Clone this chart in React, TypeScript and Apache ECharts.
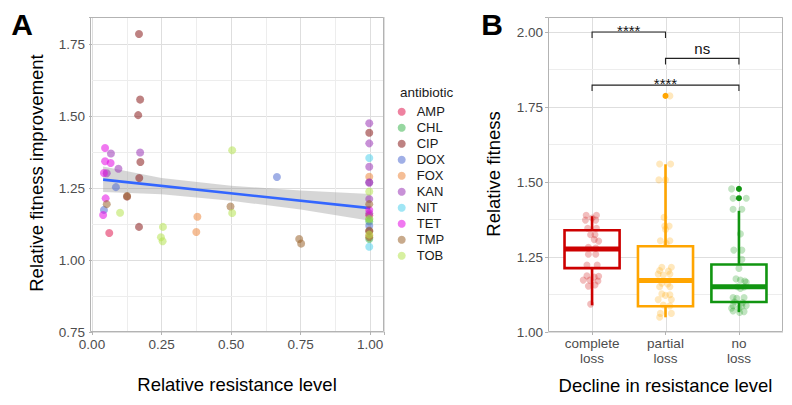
import React, { useEffect, useRef } from 'react';
import * as echarts from 'echarts';

const FONT = '"Liberation Sans", Arial, Helvetica, sans-serif';

// ---------- Panel A data ----------
const ANTIBIOTICS = ['AMP', 'CHL', 'CIP', 'DOX', 'FOX', 'KAN', 'NIT', 'TET', 'TMP', 'TOB'];
const AB_COLORS = ['#E01C52', '#40B652', '#891C1C', '#526ED2', '#ED8940', '#9B37B6', '#52D2ED', '#E40AE4', '#9B642E', '#B6E452'];

const AMP = [[0.062, 1.094], [0.997, 1.155]];
const CHL = [[0.997, 1.142], [0.997, 1.134], [0.997, 1.073]];
const CIP = [[0.169, 1.785], [0.173, 1.557], [0.166, 1.503], [0.174, 1.34], [0.17, 1.285], [0.169, 1.115], [0.126, 1.22], [0.997, 1.442], [0.997, 1.1]];
const DOX = [[0.086, 1.253], [0.043, 1.174], [0.665, 1.288], [0.997, 1.119]];
const FOX = [[0.379, 1.15], [0.375, 1.097], [0.997, 1.289], [0.997, 1.085]];
const KAN = [[0.068, 1.37], [0.173, 1.373], [0.053, 1.301], [0.095, 1.317], [0.997, 1.475], [0.997, 1.405], [0.997, 1.324], [0.997, 1.27], [0.997, 1.268], [0.997, 1.212], [0.997, 1.162]];
const NIT = [[0.997, 1.354], [0.997, 1.046]];
const TET = [[0.047, 1.389], [0.047, 1.343], [0.067, 1.337], [0.043, 1.302], [0.049, 1.214], [0.04, 1.156], [0.997, 1.174]];
const TMP = [[0.126, 1.222], [0.498, 1.186], [0.745, 1.073], [0.752, 1.057], [0.997, 1.194], [0.997, 1.102], [0.997, 1.079], [0.053, 1.194]];
const TOB = [[0.504, 1.381], [0.101, 1.164], [0.255, 1.115], [0.248, 1.079], [0.254, 1.065], [0.504, 1.163], [0.997, 1.238], [0.997, 1.142], [0.997, 1.088]];
const AB_DATA = [AMP, CHL, CIP, DOX, FOX, KAN, NIT, TET, TMP, TOB];

const FIT_X = [0.04, 1.0];
const FIT_Y = [1.279, 1.18];
const BAND_X = [0.04, 0.25, 0.5, 0.75, 1.0];
const BAND_UP = [1.325, 1.285, 1.258, 1.241, 1.229];
const BAND_LO = [1.236, 1.228, 1.206, 1.175, 1.136];

const A_X_MINOR = [0.125, 0.375, 0.625, 0.875];
const A_Y_MINOR = [0.875, 1.125, 1.375, 1.625];

// ---------- Panel B data ----------
const CATS = ['complete\nloss', 'partial\nloss', 'no\nloss'];
const CAT_COLORS = ['#CD0000', '#FFA500', '#119511'];
const BOX_LO = [1.089, 1.049, 1.066];
const BOX_Q1 = [1.213, 1.086, 1.1];
const BOX_MED = [1.277, 1.172, 1.151];
const BOX_Q3 = [1.339, 1.286, 1.225];
const BOX_HI = [1.386, 1.559, 1.404];

const PTS_COMPLETE = [[0.92, 1.389], [1.06, 1.389], [1.0, 1.38], [0.91, 1.373], [1.05, 1.373], [0.94, 1.346], [1.06, 1.346], [0.98, 1.324], [1.04, 1.324], [1.03, 1.308], [1.09, 1.303], [0.95, 1.282], [1.05, 1.28], [0.95, 1.259], [1.05, 1.259], [0.93, 1.223], [1.07, 1.223], [0.93, 1.187], [1.03, 1.183], [1.09, 1.186], [0.88, 1.173], [0.97, 1.173], [1.08, 1.17], [0.95, 1.153], [1.04, 1.157], [0.98, 1.093]];
const PTS_PARTIAL = [[2.06, 1.787], [1.92, 1.56], [2.07, 1.56], [1.91, 1.507], [2.0, 1.507], [1.98, 1.382], [1.99, 1.353], [2.05, 1.353], [2.0, 1.342], [1.93, 1.304], [2.06, 1.304], [2.01, 1.296], [1.95, 1.216], [2.08, 1.216], [1.92, 1.205], [2.04, 1.203], [1.9, 1.193], [1.97, 1.19], [2.06, 1.193], [1.95, 1.163], [2.03, 1.16], [1.92, 1.151], [2.06, 1.151], [1.95, 1.127], [2.06, 1.124], [2.0, 1.122], [1.9, 1.108], [2.08, 1.108], [1.97, 1.09], [2.06, 1.087], [1.93, 1.062], [2.08, 1.062], [1.92, 1.049]];
const PTS_NO = [[2.9, 1.477], [3.1, 1.446], [2.92, 1.446], [2.92, 1.409], [3.04, 1.409], [3.02, 1.327], [2.93, 1.273], [3.04, 1.273], [3.04, 1.242], [3.0, 1.212], [2.96, 1.177], [3.02, 1.173], [3.08, 1.17], [3.1, 1.166], [2.98, 1.151], [3.07, 1.15], [3.02, 1.145], [2.92, 1.115], [2.97, 1.112], [3.07, 1.115], [2.94, 1.1], [3.05, 1.098], [2.92, 1.088], [3.04, 1.086], [3.1, 1.088], [2.9, 1.079], [3.0, 1.079], [2.92, 1.07], [3.07, 1.068], [3.01, 1.065]];
const PTS_B = [PTS_COMPLETE, PTS_PARTIAL, PTS_NO];
const OUT_PARTIAL = [[2, 1.787]];
const OUT_NO = [[3, 1.477], [3, 1.446]];

const BR_X1 = [1, 2, 1];
const BR_X2 = [2, 3, 3];
const BR_Y = [2.0, 1.912, 1.823];
const BR_LABEL = ['****', 'ns', '****'];

const B_X_TICKS = [1, 2, 3];
const B_Y_MINOR = [1.125, 1.375, 1.625, 1.875];

const GRID_MAJOR = '#DEDEDE';
const GRID_MINOR = '#EDEDED';
const BORDER = '#B3B3B3';
const TICK_TEXT = '#4D4D4D';

const isMultiple = (v: number, step: number) => Math.abs(v / step - Math.round(v / step)) < 1e-6;

const vLines = (color: string) => (params: any, api: any) => {
  const cs = params.coordSys;
  const p = api.coord([api.value(0), api.value(1)]);
  const x = Math.round(p[0]) + 0.5;
  return { type: 'line', silent: true, shape: { x1: x, y1: cs.y, x2: x, y2: cs.y + cs.height }, style: { stroke: color, lineWidth: 1 } };
};
const hLines = (color: string) => (params: any, api: any) => {
  const cs = params.coordSys;
  const p = api.coord([api.value(0), api.value(1)]);
  const y = Math.round(p[1]) + 0.5;
  return { type: 'line', silent: true, shape: { x1: cs.x, y1: y, x2: cs.x + cs.width, y2: y }, style: { stroke: color, lineWidth: 1 } };
};

function buildOption(): any {
  const axisTick = { show: true, length: 3, lineStyle: { color: BORDER, width: 1 } };
  const labelBase = { color: TICK_TEXT, fontSize: 13.5, fontFamily: FONT };

  const series: any[] = [];
  series.push({ type: 'custom', xAxisIndex: 0, yAxisIndex: 0, silent: true, z: 1, renderItem: vLines(GRID_MINOR), data: A_X_MINOR.map((x) => [x, 1.0]) });
  series.push({ type: 'custom', xAxisIndex: 0, yAxisIndex: 0, silent: true, z: 1, renderItem: hLines(GRID_MINOR), data: A_Y_MINOR.map((y) => [0.5, y]) });
  series.push({
    type: 'custom', xAxisIndex: 0, yAxisIndex: 0, silent: true, z: 2,
    data: [[BAND_X[0], BAND_LO[0]]],
    renderItem: (params: any, api: any) => {
      const pts: number[][] = [];
      for (let i = 0; i < BAND_X.length; i++) pts.push(api.coord([BAND_X[i], BAND_UP[i]]));
      for (let i = BAND_X.length - 1; i >= 0; i--) pts.push(api.coord([BAND_X[i], BAND_LO[i]]));
      return { type: 'polygon', shape: { points: pts }, style: { fill: 'rgba(153,153,153,0.4)' } };
    },
  });
  series.push({
    type: 'line', xAxisIndex: 0, yAxisIndex: 0, z: 3, silent: true, showSymbol: false, symbol: 'none',
    data: FIT_X.map((x, i) => [x, FIT_Y[i]]),
    lineStyle: { color: '#3366FF', width: 2.6 },
  });
  ANTIBIOTICS.forEach((name, i) => {
    series.push({
      type: 'scatter', name, xAxisIndex: 0, yAxisIndex: 0, z: 4,
      data: AB_DATA[i], symbolSize: 8,
      itemStyle: { color: AB_COLORS[i], opacity: 0.55 },
    });
  });

  series.push({ type: 'custom', xAxisIndex: 1, yAxisIndex: 1, silent: true, z: 1, renderItem: vLines(GRID_MAJOR), data: B_X_TICKS.map((x) => [x, 1.5]) });
  series.push({ type: 'custom', xAxisIndex: 1, yAxisIndex: 1, silent: true, z: 1, renderItem: hLines(GRID_MINOR), data: B_Y_MINOR.map((y) => [2, y]) });
  series.push({
    type: 'custom', xAxisIndex: 1, yAxisIndex: 1, silent: true, z: 2,
    encode: { x: 0, y: [1, 2, 3, 4, 5] },
    data: CATS.map((_, i) => [i + 1, BOX_LO[i], BOX_Q1[i], BOX_MED[i], BOX_Q3[i], BOX_HI[i]]),
    renderItem: (params: any, api: any) => {
      const x = api.value(0);
      const c = CAT_COLORS[params.dataIndex];
      const lo = api.coord([x, api.value(1)]);
      const q1 = api.coord([x, api.value(2)]);
      const med = api.coord([x, api.value(3)]);
      const q3 = api.coord([x, api.value(4)]);
      const hi = api.coord([x, api.value(5)]);
      const half = api.size([0.375, 0])[0];
      return {
        type: 'group',
        children: [
          { type: 'line', shape: { x1: hi[0], y1: hi[1], x2: q3[0], y2: q3[1] }, style: { stroke: c, lineWidth: 2.6 } },
          { type: 'line', shape: { x1: q1[0], y1: q1[1], x2: lo[0], y2: lo[1] }, style: { stroke: c, lineWidth: 2.6 } },
          { type: 'rect', shape: { x: q3[0] - half, y: q3[1], width: half * 2, height: q1[1] - q3[1] }, style: { fill: '#FFFFFF', stroke: c, lineWidth: 2.6 } },
          { type: 'line', shape: { x1: med[0] - half, y1: med[1], x2: med[0] + half, y2: med[1] }, style: { stroke: c, lineWidth: 5 } },
        ],
      };
    },
  });
  PTS_B.forEach((pts, i) => {
    series.push({
      type: 'scatter', xAxisIndex: 1, yAxisIndex: 1, z: 3, silent: true,
      data: pts, symbolSize: 7,
      itemStyle: { color: CAT_COLORS[i], opacity: 0.26 },
    });
  });
  series.push({ type: 'scatter', xAxisIndex: 1, yAxisIndex: 1, z: 4, silent: true, data: OUT_PARTIAL, symbolSize: 6, itemStyle: { color: CAT_COLORS[1], opacity: 1 } });
  series.push({ type: 'scatter', xAxisIndex: 1, yAxisIndex: 1, z: 4, silent: true, data: OUT_NO, symbolSize: 6, itemStyle: { color: CAT_COLORS[2], opacity: 1 } });
  series.push({
    type: 'custom', xAxisIndex: 1, yAxisIndex: 1, silent: true, z: 5,
    encode: { x: [0, 2], y: 1 },
    data: BR_Y.map((y, i) => [BR_X1[i], y, BR_X2[i]]),
    renderItem: (params: any, api: any) => {
      const y = api.value(1);
      const a = api.coord([api.value(0), y]);
      const b = api.coord([api.value(2), y]);
      const a2 = api.coord([api.value(0), y - 0.02]);
      const b2 = api.coord([api.value(2), y - 0.02]);
      const label = BR_LABEL[params.dataIndex];
      const isNs = label === 'ns';
      return {
        type: 'group',
        children: [
          { type: 'polyline', shape: { points: [a2, a, b, b2] }, style: { stroke: '#222222', lineWidth: 1.1, fill: 'none' } },
          {
            type: 'text', x: (a[0] + b[0]) / 2, y: a[1] + (isNs ? -9.5 : -1.5),
            style: { text: label, fontSize: 15, fontFamily: FONT, fill: '#111111', align: 'center', verticalAlign: 'middle', textAlign: 'center', textVerticalAlign: 'middle' },
          },
        ],
      };
    },
  });

  const txt = (text: string, x: number, y: number, size: number, extra: any = {}) => ({
    type: 'text', x, y, silent: true, z: 20,
    style: { text, fontSize: size, fontFamily: FONT, fill: '#000000', align: 'center', verticalAlign: 'middle', textAlign: 'center', textVerticalAlign: 'middle', ...(extra.style || {}) },
    ...(extra.rotation !== undefined ? { rotation: extra.rotation } : {}),
  });

  return {
    animation: false,
    backgroundColor: '#FFFFFF',
    textStyle: { fontFamily: FONT },
    grid: [
      { left: 92, right: 408, top: 17, bottom: 73, containLabel: false, outerBoundsMode: 'none' },
      { left: 548, right: 9, top: 17, bottom: 73, containLabel: false, outerBoundsMode: 'none' },
    ],
    xAxis: [
      {
        gridIndex: 0, type: 'value', min: 0, max: 1.05, interval: 0.25,
        axisLine: { show: false }, axisTick,
        axisLabel: { ...labelBase, margin: 5, formatter: (v: number) => (isMultiple(v, 0.25) && v <= 1.0001 ? v.toFixed(2) : '') },
        splitLine: { show: true, lineStyle: { color: GRID_MAJOR, width: 1 } },
      },
      {
        gridIndex: 1, type: 'value', min: 0.4, max: 3.6,
        axisLine: { show: false },
        axisTick: { ...axisTick, customValues: B_X_TICKS },
        axisLabel: { ...labelBase, margin: 4, lineHeight: 15, customValues: B_X_TICKS, formatter: (v: number) => (isMultiple(v, 1) && v >= 1 && v <= 3 ? CATS[Math.round(v) - 1] : '') },
        splitLine: { show: false },
      },
    ],
    yAxis: [
      {
        gridIndex: 0, type: 'value', min: 0.75, max: 1.84375, interval: 0.25,
        axisLine: { show: false }, axisTick,
        axisLabel: { ...labelBase, margin: 7, formatter: (v: number) => (isMultiple(v, 0.25) && v <= 1.7501 ? v.toFixed(2) : '') },
        splitLine: { show: true, lineStyle: { color: GRID_MAJOR, width: 1 } },
      },
      {
        gridIndex: 1, type: 'value', min: 1.0, max: 2.05, interval: 0.25,
        axisLine: { show: false }, axisTick,
        axisLabel: { ...labelBase, margin: 5, formatter: (v: number) => (isMultiple(v, 0.25) && v <= 2.0001 ? v.toFixed(2) : '') },
        splitLine: { show: true, lineStyle: { color: GRID_MAJOR, width: 1 } },
      },
    ],
    legend: {
      data: ANTIBIOTICS,
      orient: 'vertical', left: 397.7, top: 103.7, padding: 0,
      itemWidth: 20, itemHeight: 8, itemGap: 0, icon: 'circle',
      selectedMode: false,
      textStyle: { fontSize: 13, lineHeight: 16, color: '#1A1A1A', fontFamily: FONT },
    },
    graphic: [
      { type: 'rect', silent: true, z: 15, shape: { x: 90.5, y: 17.5, width: 293, height: 314 }, style: { fill: 'none', stroke: BORDER, lineWidth: 1 } },
      { type: 'rect', silent: true, z: 15, shape: { x: 548.5, y: 17.5, width: 234, height: 314 }, style: { fill: 'none', stroke: BORDER, lineWidth: 1 } },
      txt('A', 22, 24, 30, { style: { fontWeight: 'bold' } }),
      txt('B', 492, 24, 30, { style: { fontWeight: 'bold' } }),
      txt('Relative fitness improvement', 36, 173, 18.5, { rotation: Math.PI / 2 }),
      txt('Relative resistance level', 237, 384.5, 18.5),
      txt('Relative fitness', 493, 174, 18.5, { rotation: Math.PI / 2 }),
      txt('Decline in resistance level', 665.5, 385, 18.5),
      { type: 'text', x: 400, y: 92, silent: true, z: 20, style: { text: 'antibiotic', fontSize: 13.5, fontFamily: FONT, fill: '#1A1A1A', align: 'left', verticalAlign: 'middle', textAlign: 'left', textVerticalAlign: 'middle' } },
    ],
    series,
  };
}

export default function App() {
  const ref = useRef<HTMLDivElement>(null);
  useEffect(() => {
    if (!ref.current) return;
    const chart = echarts.init(ref.current, null, { renderer: 'svg' });
    chart.setOption(buildOption());
    return () => chart.dispose();
  }, []);
  return <div ref={ref} style={{ position: 'fixed', left: 0, top: 0, width: 792, height: 405, background: '#fff' }} />;
}
